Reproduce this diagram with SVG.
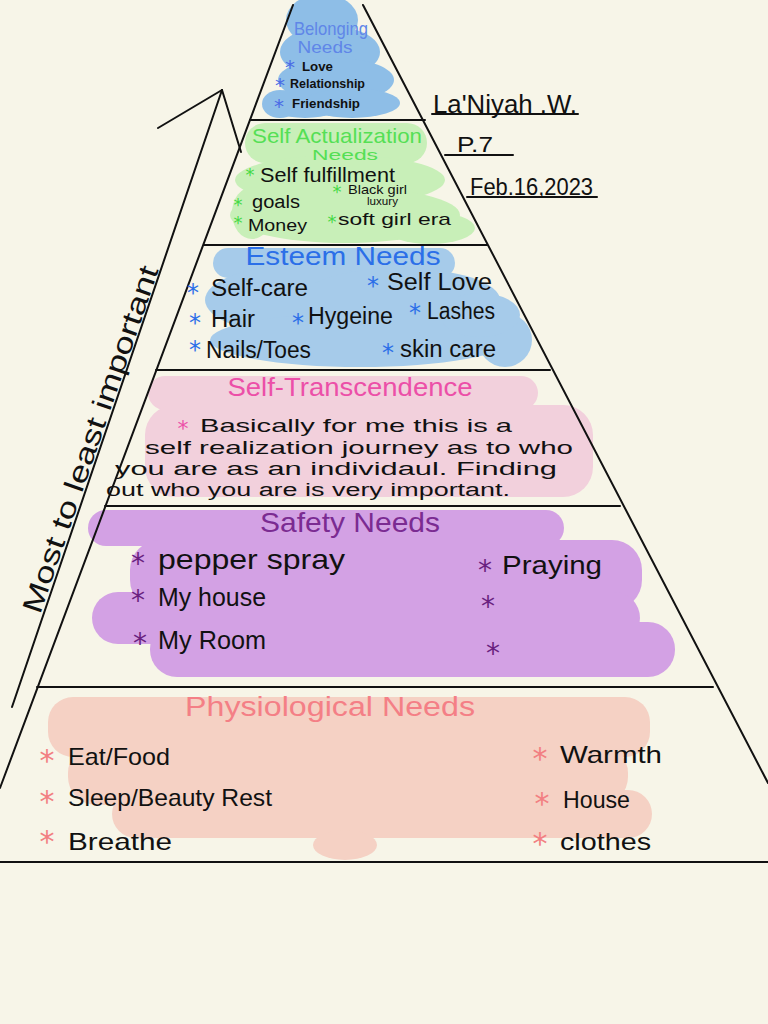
<svg xmlns="http://www.w3.org/2000/svg" width="768" height="1024" viewBox="0 0 768 1024">
<style>
.ln{stroke:#111;stroke-width:2;fill:none;stroke-linecap:round}
.t{font-family:"Liberation Sans","DejaVu Sans",sans-serif;fill:#111}
.a{font-family:"DejaVu Sans",sans-serif;text-anchor:middle}
.hd{font-family:"Liberation Sans","DejaVu Sans",sans-serif;text-anchor:middle}
</style>
<rect width="768" height="1024" fill="#f7f5e8"/>

<g id="blobs">
  <g id="blob-belonging" fill="#8ebee7">
    <ellipse cx="322" cy="20" rx="36" ry="26"/>
    <ellipse cx="330" cy="52" rx="50" ry="26"/>
    <ellipse cx="336" cy="80" rx="58" ry="22"/>
    <ellipse cx="305" cy="103" rx="40" ry="15"/>
    <ellipse cx="352" cy="103" rx="48" ry="15"/>
    <ellipse cx="280" cy="104" rx="18" ry="14"/>
  </g>
  <g id="blob-selfact" fill="#c8efb8">
    <rect x="245" y="123" width="182" height="40" rx="20"/>
    <ellipse cx="340" cy="180" rx="105" ry="25"/>
    <ellipse cx="345" cy="215" rx="115" ry="28"/>
    <ellipse cx="430" cy="228" rx="45" ry="16"/>
    <ellipse cx="252" cy="213" rx="20" ry="26"/>
  </g>
  <g id="blob-esteem" fill="#a6cbea">
    <rect x="213" y="248" width="242" height="30" rx="15"/>
    <ellipse cx="300" cy="300" rx="95" ry="35"/>
    <ellipse cx="400" cy="300" rx="100" ry="32"/>
    <ellipse cx="360" cy="340" rx="150" ry="27"/>
    <circle cx="505" cy="340" r="27"/>
    <ellipse cx="480" cy="315" rx="40" ry="22"/>
  </g>
  <g id="blob-transcend" fill="#f2d0dc">
    <rect x="148" y="376" width="390" height="34" rx="17"/>
    <rect x="145" y="405" width="448" height="92" rx="30"/>
  </g>
  <g id="blob-safety" fill="#d3a1e4">
    <rect x="88" y="510" width="476" height="36" rx="18"/>
    <rect x="130" y="540" width="512" height="70" rx="30"/>
    <rect x="92" y="592" width="548" height="52" rx="26"/>
    <rect x="150" y="622" width="525" height="55" rx="27"/>
  </g>
  <g id="blob-physio" fill="#f5d1c4">
    <rect x="48" y="697" width="602" height="60" rx="25"/>
    <rect x="68" y="745" width="560" height="60" rx="28"/>
    <rect x="112" y="790" width="540" height="48" rx="24"/>
    <ellipse cx="345" cy="845" rx="32" ry="15"/>
  </g>
</g>

<g id="connectors">
  <line class="ln" x1="293" y1="5" x2="0" y2="788"/>
  <line class="ln" x1="363" y1="5" x2="768" y2="783"/>
  <line class="ln" x1="250" y1="120" x2="425" y2="120"/>
  <line class="ln" x1="204" y1="245" x2="487" y2="245"/>
  <line class="ln" x1="156" y1="370" x2="550" y2="370"/>
  <line class="ln" x1="105" y1="506" x2="620" y2="506"/>
  <line class="ln" x1="37" y1="687" x2="713" y2="687"/>
  <line class="ln" x1="0" y1="862" x2="768" y2="862"/>
  <line class="ln" x1="222" y1="90" x2="12" y2="707"/>
  <line class="ln" x1="158" y1="128" x2="222" y2="90"/>
  <line class="ln" x1="222" y1="90" x2="241" y2="152"/>
  <line class="ln" x1="432" y1="114" x2="578" y2="114"/>
  <line class="ln" x1="445" y1="155" x2="513" y2="155"/>
  <line class="ln" x1="467" y1="197" x2="597" y2="197"/>
</g>

<g id="arrow-label">
  <text class="t" font-size="28" transform="translate(40,615) rotate(-71)" textLength="365" lengthAdjust="spacingAndGlyphs">Most to least important</text>
</g>

<g id="name">
  <text class="t" x="433" y="113" font-size="26" textLength="144" lengthAdjust="spacingAndGlyphs">La'Niyah .W.</text>
  <text class="t" x="457" y="152" font-size="22" textLength="36" lengthAdjust="spacingAndGlyphs">P.7</text>
  <text class="t" x="470" y="195" font-size="24" textLength="123" lengthAdjust="spacingAndGlyphs">Feb.16,2023</text>
</g>

<g id="belonging">
  <text class="hd" x="331" y="35" font-size="19" fill="#5f86e8" textLength="74" lengthAdjust="spacingAndGlyphs">Belonging</text>
  <text class="hd" x="325" y="53" font-size="17" fill="#5f86e8" textLength="55" lengthAdjust="spacingAndGlyphs">Needs</text>
  <g fill="#4a6ae6" font-size="20">
    <text class="a" x="290" y="74">*</text>
    <text class="a" x="280" y="92">*</text>
    <text class="a" x="279" y="113">*</text>
  </g>
  <text class="t" x="302" y="71" font-size="13" font-weight="bold" textLength="31" lengthAdjust="spacingAndGlyphs">Love</text>
  <text class="t" x="290" y="88" font-size="13" font-weight="bold" textLength="75" lengthAdjust="spacingAndGlyphs">Relationship</text>
  <text class="t" x="292" y="108" font-size="13" font-weight="bold" textLength="68" lengthAdjust="spacingAndGlyphs">Friendship</text>
</g>

<g id="self-actualization">
  <text class="hd" x="337" y="143" font-size="21" fill="#55df55" textLength="170" lengthAdjust="spacingAndGlyphs">Self Actualization</text>
  <text class="hd" x="345" y="160" font-size="15" fill="#55df55" textLength="66" lengthAdjust="spacingAndGlyphs">Needs</text>
  <g fill="#44d944" font-size="18">
    <text class="a" x="250" y="181">*</text>
    <text class="a" x="238" y="211">*</text>
    <text class="a" x="238" y="229">*</text>
    <text class="a" x="337" y="198">*</text>
    <text class="a" x="332" y="228">*</text>
  </g>
  <text class="t" x="260" y="182" font-size="20" textLength="135" lengthAdjust="spacingAndGlyphs">Self fulfillment</text>
  <text class="t" x="252" y="208" font-size="18" textLength="48" lengthAdjust="spacingAndGlyphs">goals</text>
  <text class="t" x="248" y="231" font-size="17" textLength="59" lengthAdjust="spacingAndGlyphs">Money</text>
  <text class="t" x="348" y="194" font-size="13" textLength="59" lengthAdjust="spacingAndGlyphs">Black girl</text>
  <text class="t" x="367" y="205" font-size="10" textLength="31" lengthAdjust="spacingAndGlyphs">luxury</text>
  <text class="t" x="338" y="225" font-size="17" textLength="113" lengthAdjust="spacingAndGlyphs">soft girl era</text>
</g>

<g id="esteem">
  <text class="hd" x="343" y="265" font-size="26" fill="#2b6fe8" textLength="195" lengthAdjust="spacingAndGlyphs">Esteem Needs</text>
  <g fill="#2b6fe8" font-size="24">
    <text class="a" x="193" y="301">*</text>
    <text class="a" x="373" y="294">*</text>
    <text class="a" x="195" y="331">*</text>
    <text class="a" x="298" y="331">*</text>
    <text class="a" x="415" y="321">*</text>
    <text class="a" x="195" y="358">*</text>
    <text class="a" x="388" y="361">*</text>
  </g>
  <text class="t" x="211" y="296" font-size="23" textLength="97" lengthAdjust="spacingAndGlyphs">Self-care</text>
  <text class="t" x="387" y="290" font-size="23" textLength="105" lengthAdjust="spacingAndGlyphs">Self Love</text>
  <text class="t" x="211" y="327" font-size="23" textLength="44" lengthAdjust="spacingAndGlyphs">Hair</text>
  <text class="t" x="308" y="324" font-size="23" textLength="85" lengthAdjust="spacingAndGlyphs">Hygeine</text>
  <text class="t" x="427" y="319" font-size="23" textLength="68" lengthAdjust="spacingAndGlyphs">Lashes</text>
  <text class="t" x="206" y="358" font-size="23" textLength="105" lengthAdjust="spacingAndGlyphs">Nails/Toes</text>
  <text class="t" x="400" y="357" font-size="23" textLength="96" lengthAdjust="spacingAndGlyphs">skin care</text>
</g>

<g id="self-transcendence">
  <text class="hd" x="350" y="396" font-size="26" fill="#ec4fa8" textLength="245" lengthAdjust="spacingAndGlyphs">Self-Transcendence</text>
  <text class="a" x="183" y="436" font-size="22" fill="#ec4fa8">*</text>
  <text class="t" x="200" y="432" font-size="19" textLength="312" lengthAdjust="spacingAndGlyphs">Basically for me this is  a</text>
  <text class="t" x="145" y="454" font-size="19" textLength="428" lengthAdjust="spacingAndGlyphs">self realization journey as to who</text>
  <text class="t" x="115" y="475" font-size="18" textLength="442" lengthAdjust="spacingAndGlyphs">you are as an individaul. Finding</text>
  <text class="t" x="106" y="496" font-size="18" textLength="404" lengthAdjust="spacingAndGlyphs">out who you are is very important.</text>
</g>

<g id="safety">
  <text class="hd" x="350" y="532" font-size="28" fill="#7b2b92" textLength="180" lengthAdjust="spacingAndGlyphs">Safety Needs</text>
  <g fill="#6a1f80" font-size="28">
    <text class="a" x="138" y="573">*</text>
    <text class="a" x="138" y="610">*</text>
    <text class="a" x="140" y="653">*</text>
    <text class="a" x="485" y="580">*</text>
    <text class="a" x="488" y="616">*</text>
    <text class="a" x="493" y="663">*</text>
  </g>
  <text class="t" x="158" y="569" font-size="28" textLength="187" lengthAdjust="spacingAndGlyphs">pepper spray</text>
  <text class="t" x="158" y="606" font-size="26" textLength="108" lengthAdjust="spacingAndGlyphs">My house</text>
  <text class="t" x="158" y="649" font-size="26" textLength="108" lengthAdjust="spacingAndGlyphs">My Room</text>
  <text class="t" x="502" y="574" font-size="26" textLength="100" lengthAdjust="spacingAndGlyphs">Praying</text>
</g>

<g id="physiological">
  <text class="hd" x="330" y="716" font-size="27" fill="#f47f86" textLength="290" lengthAdjust="spacingAndGlyphs">Physiological  Needs</text>
  <g fill="#f27f82" font-size="30">
    <text class="a" x="47" y="771">*</text>
    <text class="a" x="47" y="812">*</text>
    <text class="a" x="47" y="852">*</text>
    <text class="a" x="540" y="769">*</text>
    <text class="a" x="542" y="814">*</text>
    <text class="a" x="540" y="854">*</text>
  </g>
  <text class="t" x="68" y="765" font-size="24" textLength="102" lengthAdjust="spacingAndGlyphs">Eat/Food</text>
  <text class="t" x="68" y="806" font-size="24" textLength="204" lengthAdjust="spacingAndGlyphs">Sleep/Beauty Rest</text>
  <text class="t" x="68" y="850" font-size="24" textLength="104" lengthAdjust="spacingAndGlyphs">Breathe</text>
  <text class="t" x="560" y="763" font-size="24" textLength="102" lengthAdjust="spacingAndGlyphs">Warmth</text>
  <text class="t" x="563" y="808" font-size="24" textLength="67" lengthAdjust="spacingAndGlyphs">House</text>
  <text class="t" x="560" y="850" font-size="24" textLength="91" lengthAdjust="spacingAndGlyphs">clothes</text>
</g>
</svg>
